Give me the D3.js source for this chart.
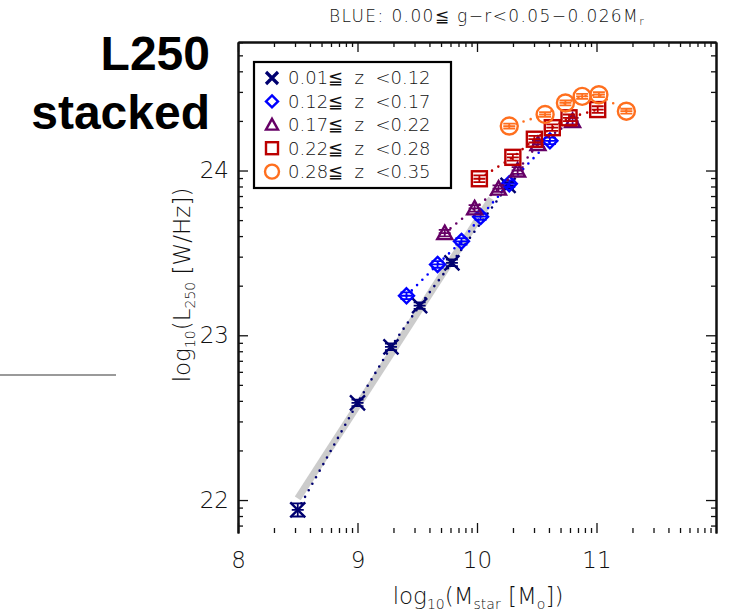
<!DOCTYPE html>
<meta charset="utf-8">
<script src="https://d3js.org/d3.v7.min.js"></script>
<style>
body { margin: 0; background: #fff; }
text { font-family: "DejaVu Sans", sans-serif; font-weight: 200; fill: #111; white-space: pre; }
.big { font-family: "Liberation Sans", Arial, sans-serif; font-weight: bold; fill: #000; }
</style>
<body>
<script>

// x = log10(Mstar), y = log10(L250), one pair of arrays per redshift bin
var labels = ["0.01\u2266  z  <0.12", "0.12\u2266  z  <0.17", "0.17\u2266  z  <0.22", "0.22\u2266  z  <0.28", "0.28\u2266  z  <0.35"];

var mass1 = [8.50, 9.00, 9.28, 9.52, 9.79, 10.26];
var lum1  = [21.94, 22.59, 22.93, 23.18, 23.44, 23.91];
var err1  = [0.04, 0.02, 0.02, 0.02, 0.02, 0.02];

var mass2 = [9.41, 9.67, 9.87, 10.03, 10.27, 10.61];
var lum2  = [23.24, 23.43, 23.57, 23.72, 23.92, 24.18];
var err2  = [0.02, 0.02, 0.02, 0.02, 0.02, 0.02];

var mass3 = [9.73, 9.98, 10.18, 10.34, 10.51, 10.80];
var lum3  = [23.62, 23.77, 23.89, 24.00, 24.16, 24.30];
var err3  = [0.02, 0.02, 0.02, 0.02, 0.02, 0.02];

var mass4 = [10.02, 10.30, 10.48, 10.63, 10.77, 11.01];
var lum4  = [23.95, 24.08, 24.19, 24.26, 24.32, 24.37];
var err4  = [0.02, 0.02, 0.02, 0.02, 0.02, 0.02];

var mass5 = [10.27, 10.57, 10.74, 10.88, 11.02, 11.25];
var lum5  = [24.27, 24.34, 24.41, 24.45, 24.46, 24.36];
var err5  = [0.015, 0.015, 0.015, 0.015, 0.015, 0.015];

// grey reference relation
var fitMass = [8.50, 10.12];
var fitLum  = [22.01, 23.83];

var xTicks = [8, 9, 10, 11];
var yTicks = [22, 23, 24];

var colors = ["#000070", "#0000ff", "#660066", "#bb0000", "#ff6f1e"];
var shapes = ["x", "diamond", "triangle", "square", "circle"];

var series = [
  {m: mass1, l: lum1, e: err1},
  {m: mass2, l: lum2, e: err2},
  {m: mass3, l: lum3, e: err3},
  {m: mass4, l: lum4, e: err4},
  {m: mass5, l: lum5, e: err5}
];

var svg = d3.select("body").append("svg")
    .attr("width", 736)
    .attr("height", 616);

var x = d3.scaleLinear().domain([8, 12]).range([238, 716]);
var y = d3.scaleLinear().domain([21.8, 24.78]).range([533, 42]);

// minor ticks, log-like spacing inside each unit
function minors(scale) {
  var d = scale.domain(), out = [];
  for (var n = Math.floor(d[0]) - 1; n <= Math.ceil(d[1]); n++) {
    for (var k = 2; k <= 9; k++) {
      var v = n + Math.log10(k);
      if (v > d[0] && v < d[1]) out.push(v);
    }
  }
  return out;
}

function styleAxis(g) {
  g.selectAll("line").attr("stroke", "#111").attr("stroke-width", 1.3);
  g.selectAll("path").attr("stroke", "#111").attr("stroke-width", 2);
  g.selectAll("text").style("font-size", "23px").attr("fill", "#111")
    .style("font-family", "DejaVu Sans").style("font-weight", 200);
}

// bottom
svg.append("g").attr("transform", "translate(0,533)")
  .call(d3.axisBottom(x).tickValues(xTicks).tickSize(-10).tickPadding(19).tickSizeOuter(0).tickFormat(d3.format("d")))
  .call(styleAxis).call(function(g){ g.select(".domain").remove(); });
svg.append("g").attr("transform", "translate(0,533)")
  .call(d3.axisBottom(x).tickValues(minors(x)).tickSize(-5).tickFormat(""))
  .call(styleAxis).call(function(g){ g.select(".domain").remove(); });

// top
svg.append("g").attr("transform", "translate(0,42)")
  .call(d3.axisTop(x).tickValues(xTicks).tickSize(-10).tickSizeOuter(0).tickFormat(""))
  .call(styleAxis);
svg.append("g").attr("transform", "translate(0,42)")
  .call(d3.axisTop(x).tickValues(minors(x)).tickSize(-5).tickSizeOuter(0).tickFormat(""))
  .call(styleAxis);

// left
svg.append("g").attr("transform", "translate(238,0)")
  .call(d3.axisLeft(y).tickValues(yTicks).tickSize(-10).tickPadding(9).tickSizeOuter(0).tickFormat(d3.format("d")))
  .call(styleAxis);
svg.append("g").attr("transform", "translate(238,0)")
  .call(d3.axisLeft(y).tickValues(minors(y)).tickSize(-5).tickSizeOuter(0).tickFormat(""))
  .call(styleAxis);

// right
svg.append("g").attr("transform", "translate(716,0)")
  .call(d3.axisRight(y).tickValues(yTicks).tickSize(-10).tickSizeOuter(0).tickFormat(""))
  .call(styleAxis);
svg.append("g").attr("transform", "translate(716,0)")
  .call(d3.axisRight(y).tickValues(minors(y)).tickSize(-5).tickSizeOuter(0).tickFormat(""))
  .call(styleAxis);

// grey relation
svg.append("line")
  .attr("x1", x(fitMass[0])).attr("y1", y(fitLum[0]))
  .attr("x2", x(fitMass[1])).attr("y2", y(fitLum[1]))
  .attr("stroke", "#cccccc").attr("stroke-width", 7);

function drawMarker(g, shape, color, s) {
  if (shape == "x") {
    g.append("path").attr("d", "M" + (-s) + "," + (-s) + "L" + s + "," + s + "M" + (-s) + "," + s + "L" + s + "," + (-s));
  } else if (shape == "diamond") {
    g.append("path").attr("d", "M0," + (-s) + "L" + s + ",0L0," + s + "L" + (-s) + ",0Z");
  } else if (shape == "triangle") {
    g.append("path").attr("d", "M0," + (-s) + "L" + s + "," + (s * 0.8) + "L" + (-s) + "," + (s * 0.8) + "Z");
  } else if (shape == "square") {
    g.append("rect").attr("x", -s).attr("y", -s).attr("width", 2 * s).attr("height", 2 * s);
  } else {
    g.append("circle").attr("r", s);
  }
  g.selectAll("path,rect,circle")
    .attr("fill", "none").attr("stroke", color).attr("stroke-width", 2.4);
}

var line = d3.line().x(function(d){ return x(d[0]); }).y(function(d){ return y(d[1]); });

series.forEach(function(s, i) {
  var pts = s.m.map(function(m, j){ return [m, s.l[j], s.e[j]]; });
  svg.append("path")
    .attr("d", line(pts))
    .attr("fill", "none")
    .attr("stroke", colors[i])
    .attr("stroke-width", 2.6)
    .attr("stroke-linecap", "round")
    .attr("stroke-dasharray", "0,7.5");

  var g = svg.append("g").selectAll("g")
    .data(pts)
    .enter().append("g")
    .attr("transform", function(d){ return "translate(" + x(d[0]) + "," + y(d[1]) + ")"; });

  g.each(function(d) {
    var mk = d3.select(this);
    var sz = shapes[i] == "circle" ? 8.5 : 7.5;
    drawMarker(mk, shapes[i], colors[i], sz);
    var dy = y(d[1] - d[2]) - y(d[1]);
    // error bar with caps
    mk.append("path")
      .attr("d", "M0," + (-dy) + "L0," + dy +
                 "M-6," + (-dy) + "L6," + (-dy) +
                 "M-6," + dy + "L6," + dy +
                 "M-6,0L6,0")
      .attr("fill", "none").attr("stroke", colors[i]).attr("stroke-width", 1.8);
  });
});

// legend
var leg = svg.append("g");
leg.append("rect")
  .attr("x", 254).attr("y", 62).attr("width", 197).attr("height", 126)
  .attr("fill", "#fff").attr("stroke", "#000").attr("stroke-width", 2.2);

labels.forEach(function(t, i) {
  var yy = 78 + i * 23.4;
  var mk = leg.append("g").attr("transform", "translate(272," + yy + ")");
  drawMarker(mk, shapes[i], colors[i], shapes[i] == "circle" ? 7 : 6);
  if (i == 0) mk.selectAll("path").attr("stroke-width", 3.2);
  leg.append("text")
    .attr("x", 288).attr("y", yy)
    .attr("dy", "0.36em")
    .style("font-size", "18px")
    .text(t);
});

// title
var title = svg.append("text")
  .attr("x", 487).attr("y", 22)
  .attr("text-anchor", "middle")
  .style("font-size", "17px")
  .style("letter-spacing", "1.4px")
  .attr("fill", "#000");
title.append("tspan").text("BLUE: 0.00\u2266 g\u2212r<0.05\u22120.026M");
title.append("tspan").attr("dy", 3).style("font-size", "11px").text("r");

// axis labels
var xl = svg.append("text")
  .attr("x", 478).attr("y", 604)
  .attr("text-anchor", "middle")
  .style("font-size", "23px");
xl.append("tspan").text("log");
xl.append("tspan").attr("dy", 5).style("font-size", "14px").text("10");
xl.append("tspan").attr("dy", -5).text("(M");
xl.append("tspan").attr("dy", 5).style("font-size", "14px").text("star");
xl.append("tspan").attr("dy", -5).text(" [M");
xl.append("tspan").attr("dy", 5).style("font-size", "14px").text("o");
xl.append("tspan").attr("dy", -5).text("])");

var yl = svg.append("text")
  .attr("transform", "translate(190,285) rotate(-90)")
  .attr("text-anchor", "middle")
  .style("font-size", "23px");
yl.append("tspan").text("log");
yl.append("tspan").attr("dy", 5).style("font-size", "14px").text("10");
yl.append("tspan").attr("dy", -5).text("(L");
yl.append("tspan").attr("dy", 5).style("font-size", "14px").text("250");
yl.append("tspan").attr("dy", -5).text(" [W/Hz])");

// panel annotation on the left
svg.append("text").attr("class", "big")
  .attr("x", 210).attr("y", 70)
  .attr("text-anchor", "end")
  .style("font-size", "48px")
  .text("L250");
svg.append("text").attr("class", "big")
  .attr("x", 210).attr("y", 129)
  .attr("text-anchor", "end")
  .style("font-size", "48px")
  .text("stacked");

svg.append("line")
  .attr("x1", 0).attr("y1", 375).attr("x2", 116).attr("y2", 375)
  .attr("stroke", "#9a9a9a").attr("stroke-width", 2);

</script>
</body>
</html>
